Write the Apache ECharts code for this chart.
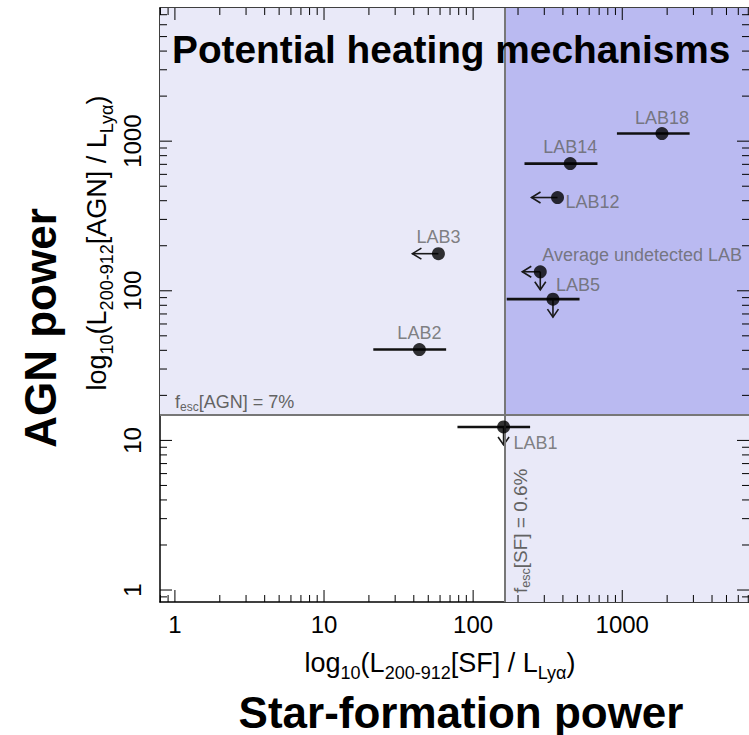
<!DOCTYPE html>
<html><head><meta charset="utf-8">
<script src="https://cdn.jsdelivr.net/npm/echarts@6/dist/echarts.min.js"></script>
<style>html,body{margin:0;padding:0;background:#fff}#c{width:749px;height:735px}</style>
</head><body><div id="c"></div>
<script>
// ---- data (raw values) ----
const names = ['LAB18', 'LAB14', 'LAB12', 'LAB3', 'LAB2', 'Average undetected LAB', 'LAB5', 'LAB1'];
const sfPower = [1846, 448, 368, 58.5, 43.6, 282, 343, 160];
const agnPower = [1124, 708, 420, 177, 40.5, 134, 87.9, 12.3];
const sfErrLow = [921, 221, null, null, 21.4, null, 168, 78.5];
const sfErrHigh = [2830, 682, null, null, 65.9, null, 517, 241];
const sfUpperLimit = [false, false, true, true, false, true, false, false];
const agnUpperLimit = [false, false, false, false, false, true, true, true];
const tickValues = [1, 10, 100, 1000];
const fescAGNThreshold = 14.8;   // f_esc[AGN] = 7%
const fescSFThreshold = 161;     // f_esc[SF] = 0.6%

// ---- styles ----
const FONT = '"Liberation Sans", Arial, Helvetica, sans-serif';
const GRAY = '#636363';
const L = Math.log10;
const X_MIN = -0.1, X_MAX = 3.85, Y_MIN = -0.08, Y_MAX = 3.89;
const arrowLen = { 'LAB12': 26, 'LAB3': 26 };
const labelPlacement = {
  'LAB18': { align: 'center', offset: [0, -16] },
  'LAB14': { align: 'center', offset: [0, -17] },
  'LAB12': { align: 'left', offset: [8, 4.5] },
  'LAB3': { align: 'center', offset: [0, -17] },
  'LAB2': { align: 'center', offset: [0, -17] },
  'Average undetected LAB': { align: 'left', offset: [2, -17] },
  'LAB5': { align: 'left', offset: [3, -14] },
  'LAB1': { align: 'left', offset: [10, 16] }
};

// log-axis tick positions (major at powers of ten, minor at 2..9 x 10^n)
const majorLog = tickValues.map(L);
function minorVals(lo, hi) {
  const out = [];
  for (let n = -1; n <= 3; n++) for (let k = 2; k <= 9; k++) {
    const v = L(k) + n;
    if (v >= lo && v <= hi) out.push(v);
  }
  return out;
}
const tickData = [];
majorLog.forEach(v => { tickData.push([v, 0, 1]); tickData.push([v, 1, 1]); });
minorVals(X_MIN, X_MAX).forEach(v => tickData.push([v, 0, 0]));
minorVals(Y_MIN, Y_MAX).forEach(v => tickData.push([v, 1, 0]));

function mkAxis(dim, pos, withLabel) {
  const isX = dim === 'x';
  const ax = {
    type: 'value', gridIndex: 0, position: pos,
    min: isX ? X_MIN : Y_MIN, max: isX ? X_MAX : Y_MAX,
    axisLine: { show: true, onZero: false, lineStyle: { color: '#000', width: 1.5 } },
    axisTick: { show: false },
    splitLine: { show: false },
    axisLabel: { show: false }
  };
  if (withLabel) {
    ax.axisLabel = {
      show: true, customValues: majorLog, fontSize: 24, color: '#000', fontFamily: FONT,
      margin: isX ? 10 : 16, rotate: isX ? 0 : 90,
      formatter: v => String(Math.round(Math.pow(10, v)))
    };
  }
  return ax;
}

const subRich = (size, lh, subSize, color) => ({
  a: { fontSize: size, lineHeight: lh, fontFamily: FONT, color: color },
  s: { fontSize: subSize, lineHeight: subSize, verticalAlign: 'bottom', fontFamily: FONT, color: color }
});

const pointData = names.map((n, i) => ({
  name: n,
  value: [L(sfPower[i]), L(agnPower[i])],
  label: Object.assign({ show: true, formatter: n }, labelPlacement[n])
}));
const barData = names.map((n, i) => [
  L(sfPower[i]), L(agnPower[i]),
  sfErrLow[i] == null ? '-' : L(sfErrLow[i]),
  sfErrHigh[i] == null ? '-' : L(sfErrHigh[i]),
  sfUpperLimit[i] ? 1 : 0, agnUpperLimit[i] ? 1 : 0, i
]);

const option = {
  backgroundColor: '#fff',
  animation: false,
  grid: { left: 160, right: 0, top: 8, bottom: 133, show: false, outerBoundsMode: 'none' },
  xAxis: [mkAxis('x', 'bottom', true), mkAxis('x', 'top', false)],
  yAxis: [mkAxis('y', 'left', true), mkAxis('y', 'right', false)],
  series: [
    {
      type: 'scatter', z: 0, data: [], silent: true,
      markArea: {
        silent: true,
        data: [
          [{ xAxis: X_MIN, yAxis: L(fescAGNThreshold), itemStyle: { color: '#e9e9f8' } }, { xAxis: X_MAX, yAxis: Y_MAX }],
          [{ xAxis: L(fescSFThreshold), yAxis: Y_MIN, itemStyle: { color: '#e9e9f8' } }, { xAxis: X_MAX, yAxis: L(fescAGNThreshold) }],
          [{ xAxis: L(fescSFThreshold), yAxis: L(fescAGNThreshold), itemStyle: { color: '#babaf1' } }, { xAxis: X_MAX, yAxis: Y_MAX }]
        ]
      },
      markLine: {
        silent: true, symbol: 'none', animation: false,
        lineStyle: { color: '#777', width: 2, type: 'solid' },
        data: [
          { xAxis: L(fescSFThreshold),
            label: { show: true, position: 'insideStartBottom', distance: [9, 5],
              formatter: '{a|f}{s|esc}{a|[SF] = 0.6%}', rich: subRich(19, 23, 12.5, GRAY) } },
          { yAxis: L(fescAGNThreshold),
            label: { show: true, position: 'insideStartTop', distance: [15, 2],
              formatter: '{a|f}{s|esc}{a|[AGN] = 7%}', rich: subRich(18, 22, 12, GRAY) } }
        ]
      }
    },
    {
      // axis tick marks (inside, on all four sides)
      type: 'custom', z: 4, silent: true, clip: false,
      data: tickData,
      renderItem: function (params, api) {
        const v = api.value(0), dim = api.value(1), major = api.value(2);
        const len = major ? 12 : 7;
        const st = { stroke: '#000', lineWidth: 1 };
        if (dim === 0) {
          const a = api.coord([v, Y_MIN]), b = api.coord([v, Y_MAX]);
          return { type: 'group', children: [
            { type: 'line', shape: { x1: a[0], y1: a[1], x2: a[0], y2: a[1] - len }, style: st },
            { type: 'line', shape: { x1: b[0], y1: b[1], x2: b[0], y2: b[1] + len }, style: st }
          ] };
        }
        const a = api.coord([X_MIN, v]), b = api.coord([X_MAX, v]);
        return { type: 'group', children: [
          { type: 'line', shape: { x1: a[0], y1: a[1], x2: a[0] + len, y2: a[1] }, style: st },
          { type: 'line', shape: { x1: b[0], y1: b[1], x2: b[0] - len, y2: b[1] }, style: st }
        ] };
      }
    },
    {
      type: 'custom', z: 3, silent: true,
      data: barData,
      renderItem: function (params, api) {
        const x = api.value(0), y = api.value(1);
        const p = api.coord([x, y]);
        const ch = [];
        const lo = api.value(2), hi = api.value(3);
        if (!isNaN(lo) && !isNaN(hi)) {
          const a = api.coord([lo, y]), b = api.coord([hi, y]);
          ch.push({ type: 'line', shape: { x1: a[0], y1: a[1], x2: b[0], y2: b[1] },
            style: { stroke: '#111', lineWidth: 2.6 } });
        }
        const nm = names[api.value(6)];
        const st = { stroke: '#1a1a1a', lineWidth: 1.6, fill: null };
        if (api.value(4)) {
          const len = arrowLen[nm] || 18;
          const tx = p[0] - len, ty = p[1];
          ch.push({ type: 'line', shape: { x1: p[0], y1: ty, x2: tx, y2: ty }, style: st });
          ch.push({ type: 'polyline', shape: { points: [[tx + 9, ty - 5.5], [tx, ty], [tx + 9, ty + 5.5]] }, style: st });
        }
        if (api.value(5)) {
          const tx = p[0], ty = p[1] + 18;
          ch.push({ type: 'line', shape: { x1: tx, y1: p[1], x2: tx, y2: ty }, style: st });
          ch.push({ type: 'polyline', shape: { points: [[tx - 5.5, ty - 8], [tx, ty], [tx + 5.5, ty - 8]] }, style: st });
        }
        return { type: 'group', children: ch };
      }
    },
    {
      type: 'scatter', z: 5, symbol: 'circle', symbolSize: 13,
      itemStyle: { color: '#000' },
      label: { show: true, position: 'inside', verticalAlign: 'middle', color: GRAY, fontSize: 18, fontFamily: FONT },
      data: pointData
    }
  ],
  graphic: [
    { type: 'text', z: 100, x: 172, y: 49,
      style: { text: 'Potential heating mechanisms', fill: '#000', fontSize: 38.8, fontWeight: 'bold', fontFamily: FONT, align: 'left', verticalAlign: 'middle' } },
    { type: 'text', z: 100, x: 97, y: 243, rotation: Math.PI / 2,
      style: { text: '{a|log}{s|10}{a|(L}{s|200-912}{a|[AGN] / L}{s|Lyα}{a|)}', rich: subRich(27, 38, 18, '#000'), align: 'center', verticalAlign: 'middle' } },
    { type: 'text', z: 100, x: 40, y: 328, rotation: Math.PI / 2,
      style: { text: 'AGN power', fill: '#000', fontSize: 44, fontWeight: 'bold', fontFamily: FONT, align: 'center', verticalAlign: 'middle' } },
    { type: 'text', z: 100, x: 440, y: 663,
      style: { text: '{a|log}{s|10}{a|(L}{s|200-912}{a|[SF] / L}{s|Lyα}{a|)}', rich: subRich(27, 38, 18, '#000'), align: 'center', verticalAlign: 'middle' } },
    { type: 'text', z: 100, x: 461, y: 712,
      style: { text: 'Star-formation power', fill: '#000', fontSize: 44, fontWeight: 'bold', fontFamily: FONT, align: 'center', verticalAlign: 'middle' } }
  ]
};

const chart = echarts.init(document.getElementById('c'), null, { renderer: 'svg' });
chart.setOption(option);
</script>
</body></html>
